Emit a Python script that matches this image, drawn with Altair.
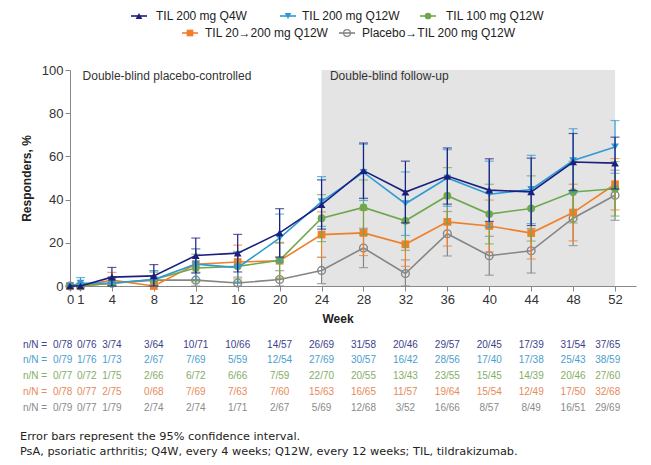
import altair as alt
import pandas as pd

# ---------------- data ----------------
weeks = [0, 1, 4, 8, 12, 16, 20, 24, 28, 32, 36, 40, 44, 48, 52]
series = ["TIL 200 mg Q4W", "TIL 200 mg Q12W", "TIL 100 mg Q12W",
          "TIL 20\u2192200 mg Q12W", "Placebo\u2192TIL 200 mg Q12W"]

q4w = [0, 0, 4.1, 4.7, 14.1, 15.2, 24.6, 37.7, 53.4, 43.5, 50.9, 44.4, 43.6, 57.4, 56.9]
q4w_lo = [0, 0, 0, 0, 6.0, 6.5, 13.4, 26.3, 40.6, 29.2, 37.9, 29.9, 28.0, 44.2, 44.9]
q4w_hi = [0, 0, 8.6, 9.9, 22.2, 23.9, 35.8, 49.1, 66.2, 57.8, 63.9, 58.9, 59.2, 70.6, 68.9]

q12w = [0, 1.3, 1.4, 3.0, 10.1, 8.5, 22.2, 39.1, 52.6, 38.1, 50.0, 42.5, 44.7, 58.1, 64.4]
q12w_lo = [0, 0, 0, 0, 3.0, 1.4, 11.1, 27.6, 39.6, 23.4, 36.9, 27.2, 28.9, 43.4, 52.2]
q12w_hi = [0, 3.9, 4.1, 7.1, 17.2, 15.6, 33.3, 50.6, 65.6, 52.8, 63.1, 57.8, 60.5, 72.8, 76.6]

t100 = [0, 0, 1.3, 3.0, 8.3, 9.1, 11.9, 31.4, 36.4, 30.2, 41.8, 33.3, 35.9, 43.5, 45.0]
t100_lo = [0, 0, 0, 0, 1.9, 2.2, 3.6, 20.5, 23.7, 16.5, 28.8, 19.5, 20.8, 29.2, 32.4]
t100_hi = [0, 0, 3.9, 7.1, 14.7, 16.0, 20.2, 42.3, 49.1, 43.9, 54.8, 47.1, 51.0, 57.8, 57.6]

t20 = [0, 0, 2.7, 0, 10.1, 11.1, 11.7, 23.8, 24.6, 19.3, 29.7, 27.8, 24.5, 34.0, 47.1]
t20_lo = [0, 0, 0, 0, 3.0, 3.3, 3.6, 13.3, 14.1, 9.1, 18.5, 15.8, 12.5, 20.9, 35.2]
t20_hi = [0, 0, 6.3, 0, 17.2, 18.9, 19.8, 34.3, 35.1, 29.5, 40.9, 39.8, 36.5, 47.1, 59.0]

pbo = [0, 0, 1.3, 2.7, 2.7, 1.4, 3.0, 7.2, 17.6, 5.8, 24.2, 14.0, 16.3, 31.4, 42.0]
pbo_lo = [0, 0, 0, 0, 0, 0, 0, 1.1, 8.5, 0, 13.9, 5.0, 6.0, 18.7, 30.4]
pbo_hi = [0, 0, 3.8, 6.4, 6.4, 4.1, 7.1, 13.3, 26.7, 12.1, 34.5, 23.0, 26.6, 44.1, 53.6]

nN_q4w = ["0/78", "0/76", "3/74", "3/64", "10/71", "10/66", "14/57", "26/69", "31/58",
          "20/46", "29/57", "20/45", "17/39", "31/54", "37/65"]
nN_q12w = ["0/79", "1/76", "1/73", "2/67", "7/69", "5/59", "12/54", "27/69", "30/57",
           "16/42", "28/56", "17/40", "17/38", "25/43", "38/59"]
nN_100 = ["0/77", "0/72", "1/75", "2/66", "6/72", "6/66", "7/59", "22/70", "20/55",
          "13/43", "23/55", "15/45", "14/39", "20/46", "27/60"]
nN_20 = ["0/78", "0/77", "2/75", "0/68", "7/69", "7/63", "7/60", "15/63", "16/65",
         "11/57", "19/64", "15/54", "12/49", "17/50", "32/68"]
nN_pbo = ["0/79", "0/77", "1/79", "2/74", "2/74", "1/71", "2/67", "5/69", "12/68",
          "3/52", "16/66", "8/57", "8/49", "16/51", "29/69"]

footnotes = ["Error bars represent the 95% confidence interval.",
             "PsA, psoriatic arthritis; Q4W, every 4 weeks; Q12W, every 12 weeks; TIL, tildrakizumab."]

# ---------------- styles / layout ----------------
colors = ["#1b1f80", "#2f9bd3", "#6fa84c", "#f07f2a", "#858585"]
table_colors = ["#3d3f8a", "#4aa0cf", "#86ad66", "#e8895a", "#8a8a8a"]
shapes = ["triangle-up", "triangle-down", "circle", "square", "circle"]

W, H = 566, 216
XDOM = [0, 54]
xscale = alt.Scale(domain=XDOM, nice=False, zero=False)
yscale = alt.Scale(domain=[0, 100], nice=False)
FONT = "Liberation Sans"

X_AX = alt.Axis(values=weeks, title=None, labelFont=FONT, labelFontSize=13,
                labelColor="#333", domainColor="#888", tickColor="#888",
                tickSize=5, grid=False, labelPadding=2, labelFlush=False,
                labelOverlap=False)
Y_AX = alt.Axis(values=[0, 20, 40, 60, 80, 100], title="Responders, %",
                titleFont=FONT, titleFontSize=12, titleFontWeight="bold",
                titleColor="#222", titlePadding=8, labelFont=FONT,
                labelFontSize=13, labelColor="#333", domainColor="#888",
                tickColor="#888", tickSize=5, grid=False, labelPadding=2)

table_cols = [-0.7, 1.6, 4, 8, 12, 16, 20, 24, 28, 32, 36, 40, 44, 48, 51.3]
table_rows_y = [275, 290, 306, 322, 338]
footnote_y = [367, 382]
legend_pos = [(139, 16, 156), (288, 16, 302), (428, 16, 446), (190, 33, 205), (347, 33, 362)]

vals = [q4w, q12w, t100, t20, pbo]
los = [q4w_lo, q12w_lo, t100_lo, t20_lo, pbo_lo]
his = [q4w_hi, q12w_hi, t100_hi, t20_hi, pbo_hi]
nNs = [nN_q4w, nN_q12w, nN_100, nN_20, nN_pbo]

rows = []
for i, s in enumerate(series):
    for j, w in enumerate(weeks):
        rows.append(dict(series=s, order=i, week=w, value=vals[i][j],
                         lo=los[i][j], hi=his[i][j]))
df = pd.DataFrame(rows)


def X(f):
    return alt.X(f, scale=xscale, axis=X_AX)


def Y(f):
    return alt.Y(f, scale=yscale, axis=Y_AX)


shade = alt.Chart(pd.DataFrame({"a": [24], "b": [52], "lo": [0], "hi": [100]})).mark_rect(
    color="#e4e4e4").encode(x=X("a:Q"), x2="b:Q", y=Y("lo:Q"), y2="hi:Q")

layers = [shade]

region_txt = alt.Chart(pd.DataFrame({"x": [1.2, 24.8], "t": ["Double-blind placebo-controlled",
                                                          "Double-blind follow-up"]})).mark_text(
    align="left", baseline="middle", font=FONT, fontSize=12, color="#333").encode(
    x=X("x:Q"), y=alt.value(6), text="t:N")
layers.append(region_txt)

for i in reversed(range(len(series))):
    d = df[df.order == i]
    dbar = d[d.hi > d.lo]
    base = alt.Chart(d)
    bars = alt.Chart(dbar).mark_rule(strokeWidth=1.2, color=colors[i]).encode(
        x=X("week:Q"), y=Y("lo:Q"), y2="hi:Q")
    cap_lo = alt.Chart(dbar).mark_tick(orient="horizontal", size=9, thickness=1.2,
                                       color=colors[i]).encode(x=X("week:Q"), y=Y("lo:Q"))
    cap_hi = alt.Chart(dbar).mark_tick(orient="horizontal", size=9, thickness=1.2,
                                       color=colors[i]).encode(x=X("week:Q"), y=Y("hi:Q"))
    line = base.mark_line(strokeWidth=1.6, color=colors[i]).encode(
        x=X("week:Q"), y=Y("value:Q"))
    filled = i != 4
    pts = base.mark_point(filled=filled, size=60 if filled else 60, opacity=1,
                          strokeWidth=1.4, color=colors[i], shape=shapes[i]).encode(
        x=X("week:Q"), y=Y("value:Q"))
    layers += [bars, cap_lo, cap_hi, line, pts]

# axis title Week
layers.append(alt.Chart(pd.DataFrame({"t": ["Week"]})).mark_text(
    font=FONT, fontSize=12, fontWeight="bold", color="#222", baseline="middle").encode(
    x=alt.value(268), y=alt.value(249), text="t:N"))

# n/N table
trows = []
for i in range(len(series)):
    for j in range(len(weeks)):
        trows.append(dict(series=series[i], tx=table_cols[j], t=nNs[i][j], r=i))
tdf = pd.DataFrame(trows)
for i in range(len(series)):
    layers.append(alt.Chart(tdf[tdf.r == i]).mark_text(
        font=FONT, fontSize=10, color=table_colors[i], baseline="middle").encode(
        x=X("tx:Q"), y=alt.value(table_rows_y[i]), text="t:N"))
    layers.append(alt.Chart(pd.DataFrame({"t": ["n/N ="]})).mark_text(
        font=FONT, fontSize=10, color=table_colors[i], baseline="middle", align="left").encode(
        x=alt.value(-47), y=alt.value(table_rows_y[i]), text="t:N"))

# footnotes
for k, fn in enumerate(footnotes):
    layers.append(alt.Chart(pd.DataFrame({"t": [fn]})).mark_text(
        font="DejaVu Sans", fontSize=11.3, color="#222", align="left", baseline="middle").encode(
        x=alt.value(-50), y=alt.value(footnote_y[k]), text="t:N"))

# legend
for i, s in enumerate(series):
    mx, my, tx = legend_pos[i]
    ldf = pd.DataFrame({"s": [s]})
    layers.append(alt.Chart(ldf).mark_rule(color=colors[i], strokeWidth=1.6).encode(
        x=alt.value(mx - 8 - 70), x2=alt.value(mx + 8 - 70), y=alt.value(my - 70)))
    filled = i != 4
    layers.append(alt.Chart(ldf).mark_point(filled=filled, size=45, opacity=1, strokeWidth=1.3,
                                            color=colors[i], shape=shapes[i]).encode(
        x=alt.value(mx - 70), y=alt.value(my - 70)))
    layers.append(alt.Chart(ldf).mark_text(font=FONT, fontSize=12, color="#222",
                                           align="left", baseline="middle").encode(
        x=alt.value(tx - 70), y=alt.value(my - 70), text="s:N"))

chart = alt.layer(*layers).properties(
    width=W, height=H,
    autosize=alt.AutoSizeParams(type="none"),
    padding={"left": 62, "top": 62, "right": 7, "bottom": 171},
).configure_view(stroke=None).configure_axis(grid=False)

chart.save("out.html", embed_options={"renderer": "svg", "actions": False})
